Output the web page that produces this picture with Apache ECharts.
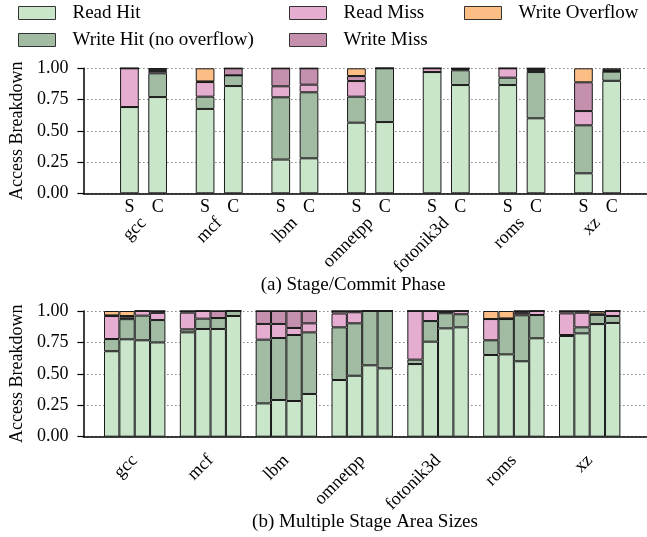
<!DOCTYPE html>
<html>
<head>
<meta charset="utf-8">
<script src="https://cdn.jsdelivr.net/npm/echarts@6/dist/echarts.min.js"></script>
<style>html,body{margin:0;padding:0;background:#fff}#c{width:647px;height:537px}</style>
</head>
<body>
<div id="c"></div>
<script>
// ---- data ----
const benchmarks = ['gcc', 'mcf', 'lbm', 'omnetpp', 'fotonik3d', 'roms', 'xz'];
const components = ['Read Hit', 'Write Hit (no overflow)', 'Read Miss', 'Write Miss', 'Write Overflow'];
const phaseLabels = ['S', 'C'];
const yTicks = [0, 0.25, 0.5, 0.75, 1];

// (a) Stage / Commit: [S, C] per benchmark
const phaseReadHit   = [[0.69, 0.77], [0.675, 0.858], [0.27, 0.28], [0.565, 0.57], [0.97, 0.866], [0.866, 0.60], [0.16, 0.90]];
const phaseWriteHit  = [[0, 0.19], [0.098, 0.086], [0.498, 0.528], [0.208, 0.43], [0, 0.118], [0.059, 0.37], [0.384, 0.073]];
const phaseReadMiss  = [[0.31, 0.018], [0.117, 0], [0.088, 0.061], [0.125, 0], [0.03, 0.01], [0.075, 0.016], [0.114, 0.005]];
const phaseWriteMiss = [[0, 0.017], [0.005, 0.056], [0.144, 0.131], [0.04, 0], [0, 0.006], [0, 0.014], [0.23, 0.007]];
const phaseOverflow  = [[0, 0.005], [0.105, 0], [0, 0], [0.062, 0], [0, 0], [0, 0], [0.112, 0.015]];

// (b) Multiple stage area sizes: 4 sizes per benchmark
const areaReadHit   = [[0.68, 0.775, 0.767, 0.75], [0.83, 0.857, 0.857, 0.96], [0.265, 0.292, 0.284, 0.34], [0.451, 0.485, 0.568, 0.544], [0.578, 0.756, 0.862, 0.87], [0.65, 0.655, 0.60, 0.783], [0.801, 0.822, 0.896, 0.905]];
const areaWriteHit  = [[0.097, 0.16, 0.196, 0.178], [0.024, 0.082, 0.087, 0.04], [0.507, 0.493, 0.525, 0.49], [0.419, 0.417, 0.432, 0.456], [0.035, 0.164, 0.12, 0.104], [0.117, 0.281, 0.366, 0.185], [0.008, 0.048, 0.074, 0.055]];
const areaReadMiss  = [[0.183, 0.012, 0.037, 0.057], [0.133, 0.061, 0, 0], [0.125, 0.112, 0.056, 0.072], [0.11, 0.088, 0, 0], [0.387, 0.08, 0.012, 0.026], [0.169, 0, 0.019, 0.032], [0.172, 0.116, 0, 0.04]];
const areaWriteMiss = [[0.005, 0.013, 0, 0.015], [0.013, 0, 0.056, 0], [0.103, 0.103, 0.135, 0.098], [0.02, 0.01, 0, 0], [0, 0, 0.006, 0], [0, 0.005, 0.015, 0], [0.019, 0.014, 0.01, 0]];
const areaOverflow  = [[0.035, 0.04, 0, 0], [0, 0, 0, 0], [0, 0, 0, 0], [0, 0, 0, 0], [0, 0, 0, 0], [0.064, 0.059, 0, 0], [0, 0, 0.02, 0]];

// ---- styling ----
const colors = ['#c9e6ca', '#a2bca3', '#e5add0', '#c490ae', '#fdbe85'];
const FONT = 'Liberation Serif';
const phaseData = [phaseReadHit, phaseWriteHit, phaseReadMiss, phaseWriteMiss, phaseOverflow];
const areaData = [areaReadHit, areaWriteHit, areaReadMiss, areaWriteMiss, areaOverflow];

function frameAxes(gi) {
  return {
    x: { type: 'category', gridIndex: gi, data: [''], axisLine: { show: true, lineStyle: { color: '#000', width: 1.5 } }, axisTick: { show: false }, axisLabel: { show: false }, splitLine: { show: false } },
    y: { type: 'value', gridIndex: gi, min: 0, max: 1, interval: 0.25,
      name: 'Access Breakdown', nameLocation: 'middle', nameGap: 56, nameRotate: 90,
      nameTextStyle: { fontFamily: FONT, fontSize: 18, color: '#000' },
      axisLine: { show: true, lineStyle: { color: '#000', width: 1.5 } },
      axisTick: { show: true, length: 6, lineStyle: { color: '#000', width: 1.2 } },
      axisLabel: { margin: 15, fontFamily: FONT, fontSize: 18, color: '#000', formatter: v => v.toFixed(2) },
      splitLine: { show: true, lineStyle: { color: '#444', width: 1, type: [1, 3] } } }
  };
}
function barAxes(gi, margin) {
  return {
    x: { type: 'category', gridIndex: gi, data: benchmarks, axisLine: { show: false }, axisTick: { show: false },
      axisLabel: { rotate: 45, margin: margin, fontFamily: FONT, fontSize: 18, color: '#000', interval: 0 } },
    y: { type: 'value', gridIndex: gi, min: 0, max: 1, show: false }
  };
}
const fa = frameAxes(0), fb = barAxes(1, 27), fc = frameAxes(2), fd = barAxes(3, 21);

const series = [];
phaseLabels.forEach((ph, j) => {
  components.forEach((comp, c) => {
    const s = {
      type: 'bar', name: comp, stack: 'phase' + j, xAxisIndex: 1, yAxisIndex: 1,
      barWidth: 18.7, barGap: '51%',
      data: benchmarks.map((b, i) => phaseData[c][i][j]),
      itemStyle: { color: colors[c], borderColor: '#1a1a1a', borderWidth: 1 }
    };
    if (c === 0) {
      s.label = { show: true, position: 'bottom', distance: 5, formatter: ph, fontFamily: FONT, fontSize: 18, color: '#000' };
    }
    series.push(s);
  });
});
[0, 1, 2, 3].forEach(k => {
  components.forEach((comp, c) => {
    series.push({
      type: 'bar', name: comp, stack: 'area' + k, xAxisIndex: 3, yAxisIndex: 3,
      barWidth: 15.35, barGap: '0%',
      data: benchmarks.map((b, i) => areaData[c][i][k]),
      itemStyle: { color: colors[c], borderColor: '#1a1a1a', borderWidth: 1 }
    });
  });
});

function legend(left, names) {
  return {
    left: left, top: 3, orient: 'vertical', padding: 0, itemGap: 7, itemWidth: 37, itemHeight: 13, icon: 'rect',
    data: names, selectedMode: false,
    itemStyle: { borderColor: '#333', borderWidth: 1 },
    textStyle: { fontFamily: FONT, fontSize: 19, color: '#000', padding: [0, 0, 0, 12], lineHeight: 20 }
  };
}

const chart = echarts.init(document.getElementById('c'), null, { renderer: 'canvas' });
chart.setOption({
  animation: false,
  backgroundColor: '#fff',
  legend: [
    legend(18, [components[0], components[1]]),
    legend(289, [components[2], components[3]]),
    legend(464, [components[4]])
  ],
  grid: [
    { left: 82, right: -2, top: 68.3, bottom: 343.7 },
    { left: 105.7, right: 11.6, top: 68.3, bottom: 343.7 },
    { left: 82, right: -2, top: 311, bottom: 100.3 },
    { left: 96.8, right: 19.4, top: 311, bottom: 100.3 }
  ],
  xAxis: [fa.x, fb.x, fc.x, fd.x],
  yAxis: [fa.y, fb.y, fc.y, fd.y],
  series: series,
  graphic: [
    { type: 'text', x: 353, y: 285, style: { text: '(a) Stage/Commit Phase', font: '19px "Liberation Serif"', fill: '#000', textAlign: 'center', textVerticalAlign: 'middle' } },
    { type: 'text', x: 365, y: 522, style: { text: '(b) Multiple Stage Area Sizes', font: '19px "Liberation Serif"', fill: '#000', textAlign: 'center', textVerticalAlign: 'middle' } }
  ]
});
</script>
</body>
</html>
